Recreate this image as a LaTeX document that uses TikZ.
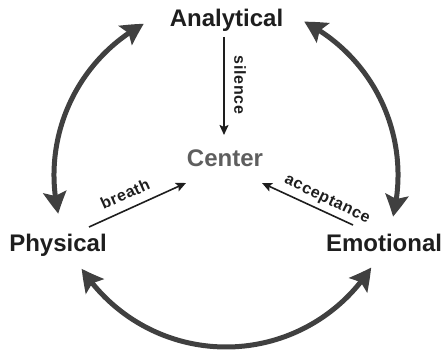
\documentclass[tikz,border=0pt]{standalone}
\usepackage{fontspec}
\setmainfont{Liberation Sans}
\usetikzlibrary{arrows.meta,bending,calc}
\definecolor{ink}{HTML}{1E1E1E}
\definecolor{ringgray}{HTML}{404040}
\definecolor{centergray}{HTML}{5E5E5E}
\tikzset{
  mainlabel/.style={font=\fontsize{24}{28}\selectfont\bfseries, text=ink, inner sep=0pt, anchor=base},
  pathlabel/.style={font=\fontsize{16}{19}\selectfont\bfseries\addfontfeatures{LetterSpace=4}, text=ink, inner sep=0pt},
  ringarrow/.style={draw=ringgray, line width=5pt,
    {Stealth[length=22pt,width=23pt,inset=4pt,bend]}-{Stealth[length=22pt,width=23pt,inset=4pt,bend]}},
  pointer/.style={draw=ink, line width=1.6pt, -{Stealth[length=10pt,width=9pt,inset=2pt]}}
}
\begin{document}
\begin{tikzpicture}[x=1pt,y=1pt]
  \useasboundingbox (0,0) rectangle (444,355);

  % the four labels
  \node[mainlabel] (ana) at (226.5,328) {Analytical};
  \node[mainlabel, text=centergray] (cen) at (225,188) {Center};
  \node[mainlabel] (phy) at (58,103) {Physical};
  \node[mainlabel] (emo) at (384,103) {Emotional};

  % ring of two-headed arrows around the centre
  \coordinate (o) at (226,180);
  \def\R{172}
  \draw[ringarrow] ([shift={(118.5:\R)}]o) arc[start angle=118.5, end angle=193, radius=\R];
  \draw[ringarrow] ([shift={(63:\R)}]o) arc[start angle=63, end angle=-14, radius=\R];
  \draw[ringarrow] ([shift={(213:\R)}]o) arc[start angle=213, end angle=327.5, radius=\R];

  % paths into the centre
  \coordinate (ana-out) at ($(ana.base)+(-2.5,-10)$);
  \coordinate (cen-top) at ($(cen.base)+(-1,32)$);
  \coordinate (phy-out) at ($(phy.base)+(31,25)$);
  \coordinate (cen-left) at ($(cen.base)+(-39,-16)$);
  \coordinate (emo-out) at ($(emo.base)+(-31,27)$);
  \coordinate (cen-right) at ($(cen.base)+(37,-16)$);

  \draw[pointer] (ana-out) -- (cen-top);
  \draw[pointer] (phy-out) -- (cen-left);
  \draw[pointer] (emo-out) -- (cen-right);

  \node[pathlabel, rotate=-90] (lsil) at (240,270) {silence};
  \node[pathlabel, rotate=24] (lbre) at (125,161) {breath};
  \node[pathlabel, rotate=-26] (lacc) at (327,155) {acceptance};
\end{tikzpicture}
\end{document}
